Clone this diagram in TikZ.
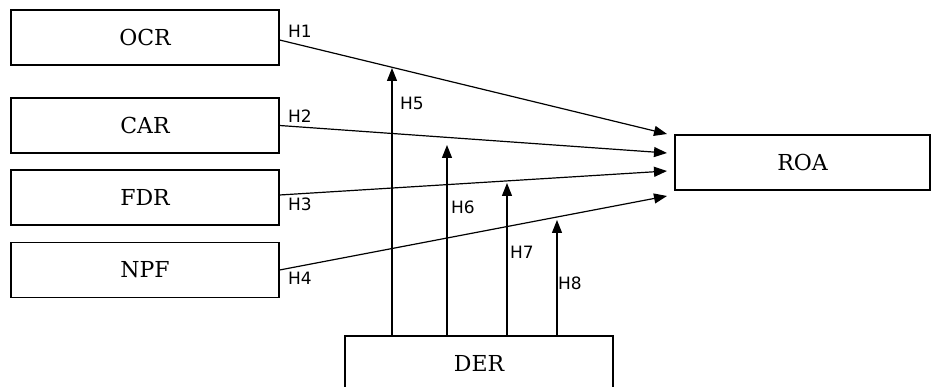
\documentclass[tikz,border=0pt]{standalone}
\usepackage{fontspec}
\setmainfont{DejaVu Serif}
\newfontfamily\labelfont{DejaVu Sans}
\usetikzlibrary{arrows.meta}
\begin{document}
\begin{tikzpicture}[x=1pt,y=-1pt,
  var/.style={draw,line width=1.2pt,rectangle,inner sep=0pt,font=\fontsize{22}{25}\selectfont},
  conn/.style={line width=1.2pt,-{Triangle[length=13pt,width=10pt]}},
  hlab/.style={font=\labelfont\fontsize{17}{19}\selectfont,inner sep=0pt}]
\useasboundingbox (0,0) rectangle (931,387);
\node[var,minimum width=268pt,minimum height=55pt] (OCR) at (145,37.5) {OCR};
\node[var,minimum width=268pt,minimum height=55pt] (CAR) at (145,125.5) {CAR};
\node[var,minimum width=268pt,minimum height=55pt] (FDR) at (145,197.5) {FDR};
\node[var,minimum width=268pt,minimum height=55pt] (NPF) at (145,270) {NPF};
\node[var,minimum width=255pt,minimum height=55pt] (ROA) at (802.5,162.5) {ROA};
\node[var,minimum width=268pt,minimum height=54pt] (DER) at (479,363) {DER};
\coordinate (e1) at (667,134);
\coordinate (e2) at (667,153);
\coordinate (e3) at (667,171);
\coordinate (e4) at (667,196);
\coordinate (t5) at (392,68);
\coordinate (t6) at (447,145);
\coordinate (t7) at (507,183);
\coordinate (t8) at (557,220);
\draw[conn] ([yshift=-2.5pt]OCR.east) -- (e1);
\draw[conn] (CAR.east) -- (e2);
\draw[conn] ([yshift=2.5pt]FDR.east) -- (e3);
\draw[conn] (NPF.east) -- (e4);
\draw[conn] (t5 |- DER.north) -- (t5);
\draw[conn] (t6 |- DER.north) -- (t6);
\draw[conn] (t7 |- DER.north) -- (t7);
\draw[conn] (t8 |- DER.north) -- (t8);
\node[hlab] (h1) at (300,31) {H1};
\node[hlab] (h2) at (300,116) {H2};
\node[hlab] (h3) at (300,204) {H3};
\node[hlab] (h4) at (300,278) {H4};
\node[hlab] (h5) at (412,103) {H5};
\node[hlab] (h6) at (463,207) {H6};
\node[hlab] (h7) at (522,252) {H7};
\node[hlab] (h8) at (570,283) {H8};
\end{tikzpicture}
\end{document}
